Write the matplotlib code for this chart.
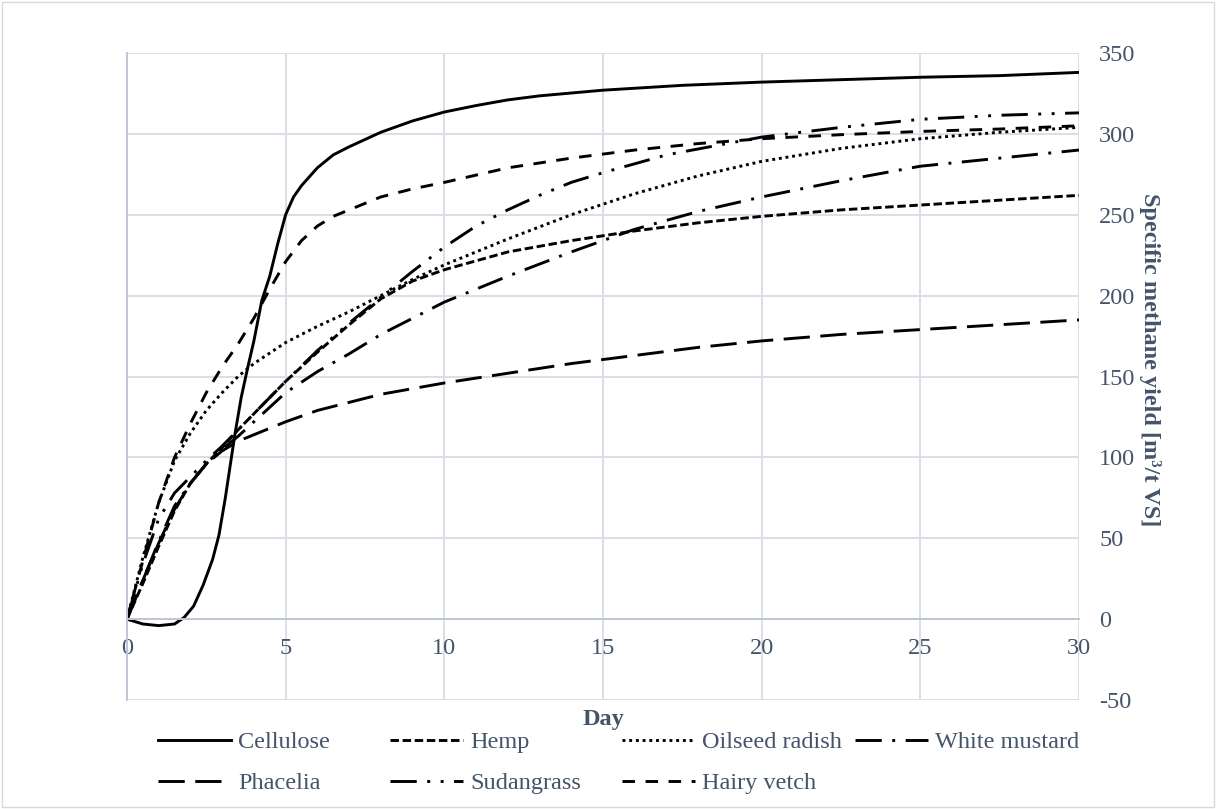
#!/usr/bin/env python3

import matplotlib.pyplot as plt
from matplotlib.patches import Rectangle

OUT_FILE = "out.png"
TEXT_COLOR = "#44546A"
GRID_COLOR = "#D9DEE7"
AXIS_COLOR = "#BFC7D5"

# Cumulative specific methane yield [m3/t VS], per day.
cellulose_day = [0, 0.5, 1, 1.5, 1.8, 2.1, 2.4, 2.7, 2.9, 3.1, 3.4, 3.6, 3.8,
                 4.0, 4.25, 4.5, 4.75, 5.0, 5.25, 5.5, 6, 6.5, 7, 8, 9, 10,
                 11, 12, 13, 15, 17.5, 20, 22.5, 25, 27.5, 30]
cellulose = [0, -3, -4, -3, 1, 8, 21, 37, 52, 75, 114, 137, 155,
             172, 197, 212, 232, 250, 261, 268, 279, 287, 292, 301, 308, 313.5,
             317.5, 321, 323.5, 327, 330, 332, 333.5, 335, 336, 338]

hemp_day = [0, 0.5, 1, 1.5, 2, 2.5, 3, 3.5, 4, 5, 6, 7, 8, 9, 10, 12, 14, 16,
            18, 20, 22.5, 25, 27.5, 30]
hemp = [0, 22, 45, 67, 84, 96, 106, 117, 127, 147, 165, 182, 198, 209, 216,
        227, 234, 240, 245, 249, 253, 256, 259, 262]

radish_day = [0, 0.5, 1, 1.5, 2, 2.5, 3, 3.5, 4, 5, 6, 7, 8, 9, 10, 12, 14,
              16, 18, 20, 22.5, 25, 27.5, 30]
radish = [0, 38, 72, 98, 115, 129, 140, 150, 158, 171, 181, 190, 200, 210,
          219, 235, 250, 263, 274, 283, 291, 297, 301, 304]

mustard_day = [0, 0.5, 1, 1.5, 2, 2.5, 3, 3.5, 4, 5, 6, 7, 8, 9, 10, 12, 14,
               16, 18, 20, 22.5, 25, 27.5, 30]
mustard = [0, 24, 48, 70, 84, 96, 105, 113, 122, 140, 153, 164, 176, 186, 196,
           212, 227, 241, 252, 261, 271, 280, 285, 290]

phacelia_day = [0, 0.5, 1, 1.5, 2, 2.5, 3, 3.5, 4, 5, 6, 7, 8, 10, 12, 14, 16,
                18, 20, 22.5, 25, 27.5, 30]
phacelia = [0, 24, 47, 68, 84, 96, 104, 110, 114, 122, 129, 134, 139, 146,
            152, 158, 163, 168, 172, 176, 179, 182, 185]

sudangrass_day = [0, 0.5, 1, 1.5, 2, 2.5, 3, 3.5, 4, 5, 6, 7, 8, 9, 10, 11,
                  12, 13, 14, 15, 17, 20, 22.5, 25, 27.5, 30]
sudangrass = [0, 34, 62, 78, 88, 98, 107, 117, 127, 147, 166, 183, 199, 215,
              230, 243, 253, 262, 270, 276, 287, 298, 304, 309, 311.5, 313]

vetch_day = [0, 0.5, 1, 1.5, 2, 2.5, 3, 3.5, 4, 4.5, 5, 5.5, 6, 6.5, 7, 8, 9,
             10, 12, 14, 16, 18, 20, 22.5, 25, 27.5, 30]
vetch = [0, 36, 72, 100, 121, 140, 156, 170, 186, 204, 221, 234, 243, 249,
         253, 261, 266, 270, 279, 285, 290, 294, 297, 299.5, 301.5, 303, 305]

x_ticks = [0, 5, 10, 15, 20, 25, 30]
y_ticks = [-50, 0, 50, 100, 150, 200, 250, 300, 350]

# (label, days, values, dash pattern); order follows the legend rows.
SERIES = [
    ("Cellulose", cellulose_day, cellulose, "solid"),
    ("Hemp", hemp_day, hemp, (0, (2.9, 1.25))),
    ("Oilseed radish", radish_day, radish, (0, (1.0, 1.3))),
    ("White mustard", mustard_day, mustard, (0, (9, 3.6, 1, 3.6))),
    ("Phacelia", phacelia_day, phacelia, (0, (9, 3.6))),
    ("Sudangrass", sudangrass_day, sudangrass,
     (0, (9, 3.6, 1, 3.6, 1, 3.6))),
    ("Hairy vetch", vetch_day, vetch, (0, (4.3, 3.6))),
]


def main():
    plt.rcParams["font.family"] = ["Liberation Serif", "DejaVu Serif"]
    plt.rcParams["font.size"] = 17.5
    plt.rcParams["axes.unicode_minus"] = False

    fig = plt.figure(figsize=(12.16, 8.09), dpi=100)
    ax = fig.add_axes([0.1044, 0.1347, 0.7829, 0.7998])

    lines = []
    for label, days, values, style in SERIES:
        (line,) = ax.plot(days, values, color="black", lw=2.1,
                          linestyle=style, label=label)
        lines.append(line)

    ax.set_xlim(0, 30)
    ax.set_ylim(-50, 350)
    ax.set_xticks(x_ticks)
    ax.set_yticks(y_ticks)
    ax.grid(True, color=GRID_COLOR, lw=1.4)
    ax.set_axisbelow(True)

    for side in ("top", "right"):
        ax.spines[side].set_visible(False)
    ax.spines["left"].set_color(AXIS_COLOR)
    ax.spines["left"].set_linewidth(1.4)
    ax.spines["bottom"].set_position(("data", 0))
    ax.spines["bottom"].set_color(AXIS_COLOR)
    ax.spines["bottom"].set_linewidth(1.4)

    ax.yaxis.tick_right()
    ax.tick_params(axis="x", length=0, pad=13.5, colors=TEXT_COLOR)
    ax.tick_params(axis="y", length=0, pad=14.5, colors=TEXT_COLOR)

    ax.set_xlabel("Day", fontweight="bold", color=TEXT_COLOR, va="center")
    ax.xaxis.set_label_coords(0.5, -0.03)
    ax.yaxis.set_label_position("right")
    ax.set_ylabel("Specific methane yield [m³/t VS]", fontweight="bold",
                  color=TEXT_COLOR, rotation=270, va="center", ha="center")
    ax.yaxis.set_label_coords(1.0746, 0.5255)

    # Excel lays the legend out in fixed-width columns, so place each column.
    columns = [(0, 4), (1, 5), (2, 6), (3,)]
    column_x = [158, 390, 622, 855]
    for idx, px in zip(columns, column_x):
        fig.legend(
            [lines[i] for i in idx],
            [lines[i].get_label() for i in idx],
            loc="upper left",
            bbox_to_anchor=(px / 1216, 1 - 731 / 809),
            frameon=False,
            borderpad=0,
            borderaxespad=0,
            handlelength=3.0,
            handletextpad=0.3,
            labelspacing=0.8,
            labelcolor=TEXT_COLOR,
        )

    fig.patches.append(Rectangle((0.002, 0.002), 0.996, 0.996,
                                 transform=fig.transFigure, fill=False,
                                 ec="#D9D9D9", lw=1))

    fig.savefig(OUT_FILE, dpi=100)


if __name__ == "__main__":
    main()
